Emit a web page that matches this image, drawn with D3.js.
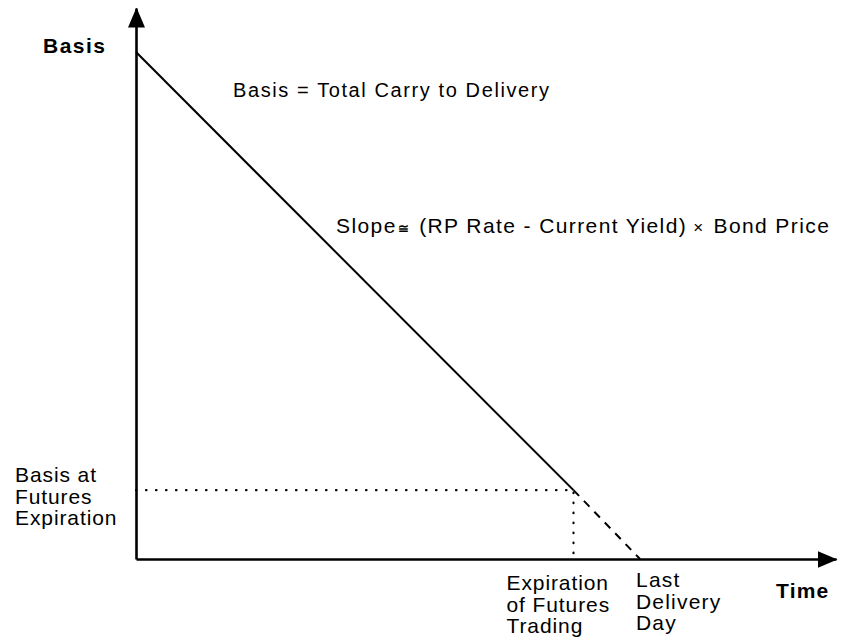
<!DOCTYPE html>
<html>
<head>
<meta charset="utf-8">
<script src="https://cdn.jsdelivr.net/npm/d3@7"></script>
<style>
  html, body { margin: 0; padding: 0; background: #fff; }
  svg { display: block; font-family: 'Liberation Sans', Arial, Helvetica, sans-serif; }
</style>
</head>
<body>
<div id="chart"></div>
<script>
// basis converges toward zero as delivery approaches
const phases = ['Start', 'Expiration of Futures Trading', 'Last Delivery Day']
const timeValues = [0, 62.5, 72]
const basisValues = [92, 12.5, 0]

const width = 848
const height = 640
const margin = { top: 8, right: 12, bottom: 81, left: 136 }

const svg = d3
  .select('#chart')
  .append('svg')
  .attr('width', width)
  .attr('height', height)

const x = d3.scaleLinear().domain([0, 100]).range([margin.left, width - margin.right])
const y = d3.scaleLinear().domain([0, 100]).range([height - margin.bottom, margin.top])

svg.append('defs')
  .append('marker')
  .attr('id', 'arrow')
  .attr('viewBox', '0 -9 20 18')
  .attr('refX', 19)
  .attr('refY', 0)
  .attr('markerUnits', 'userSpaceOnUse')
  .attr('markerWidth', 20)
  .attr('markerHeight', 18)
  .attr('orient', 'auto')
  .append('path')
  .attr('d', 'M0,-8.5L20,0L0,8.5Z')
  .attr('fill', '#000')

// axes: no ticks, just the domain line with an arrow
const xAxis = d3.axisBottom(x).tickValues([]).tickSizeOuter(0)
const yAxis = d3.axisLeft(y).tickValues([]).tickSizeOuter(0)

svg.append('g')
  .attr('transform', `translate(0, ${y(0)})`)
  .call(xAxis)
  .select('.domain')
  .attr('stroke', '#000')
  .attr('stroke-width', 2.6)
  .attr('marker-end', 'url(#arrow)')

svg.append('g')
  .attr('transform', `translate(${x(0)}, 0)`)
  .call(yAxis)
  .select('.domain')
  .attr('stroke', '#000')
  .attr('stroke-width', 2.6)
  .attr('marker-end', 'url(#arrow)')

const points = timeValues.map((t, i) => ({ phase: phases[i], t, basis: basisValues[i] }))
const expiry = points[1]

const line = d3.line()
  .x(d => x(d.t))
  .y(d => y(d.basis))

// dotted guides to the expiration point
svg.append('path')
  .datum([{ t: 0, basis: expiry.basis }, expiry, { t: expiry.t, basis: 0 }])
  .attr('d', line)
  .attr('fill', 'none')
  .attr('stroke', '#000')
  .attr('stroke-width', 2.2)
  .attr('stroke-linecap', 'round')
  .attr('stroke-dasharray', '0.5,9.5')

svg.append('path')
  .datum(points.slice(0, 2))
  .attr('d', line)
  .attr('fill', 'none')
  .attr('stroke', '#000')
  .attr('stroke-width', 2)

svg.append('path')
  .datum(points.slice(1))
  .attr('d', line)
  .attr('fill', 'none')
  .attr('stroke', '#000')
  .attr('stroke-width', 2)
  .attr('stroke-dasharray', '8,7')

// text
function label (lines, px, py, opts = {}) {
  const t = svg.append('text')
    .attr('x', px)
    .attr('y', py)
    .attr('font-size', opts.size || 21)
    .attr('font-weight', opts.bold ? 'bold' : 'normal')
    .attr('letter-spacing', opts.spacing == null ? 0.9 : opts.spacing)
    .attr('fill', '#000')
  lines.forEach((s, i) => {
    t.append('tspan')
      .attr('x', px)
      .attr('dy', i === 0 ? 0 : (opts.lineHeight || 21.5))
      .text(s)
  })
  return t
}

label(['Basis'], 43, 53, { bold: true, spacing: 1.5 })
label(['Time'], 776, 598, { bold: true, spacing: 1.2 })
label(['Basis at', 'Futures', 'Expiration'], 15, y(expiry.basis) - 8)
label(['Expiration', 'of Futures', 'Trading'], x(expiry.t) - 67, y(0) + 31)
label(['Last', 'Delivery', 'Day'], x(points[2].t) - 4, y(0) + 28, { spacing: 1.2 })

label(['Basis = Total Carry to Delivery'], 233, 97, { size: 20, spacing: 1.6 })

const slope = svg.append('text')
  .attr('x', 336)
  .attr('y', 233)
  .attr('font-size', 21)
  .attr('letter-spacing', 1.4)
  .attr('fill', '#000')
slope.append('tspan').text('Slope')
slope.append('tspan').attr('dx', 1).attr('font-size', 13).attr('font-weight', 'bold').text('\u2245')
slope.append('tspan').attr('dx', 9).text('(RP Rate - Current Yield)')
slope.append('tspan').attr('dx', 6).attr('font-size', 17).text('\u00d7')
slope.append('tspan').attr('dx', 9).text('Bond Price')
</script>
</body>
</html>
